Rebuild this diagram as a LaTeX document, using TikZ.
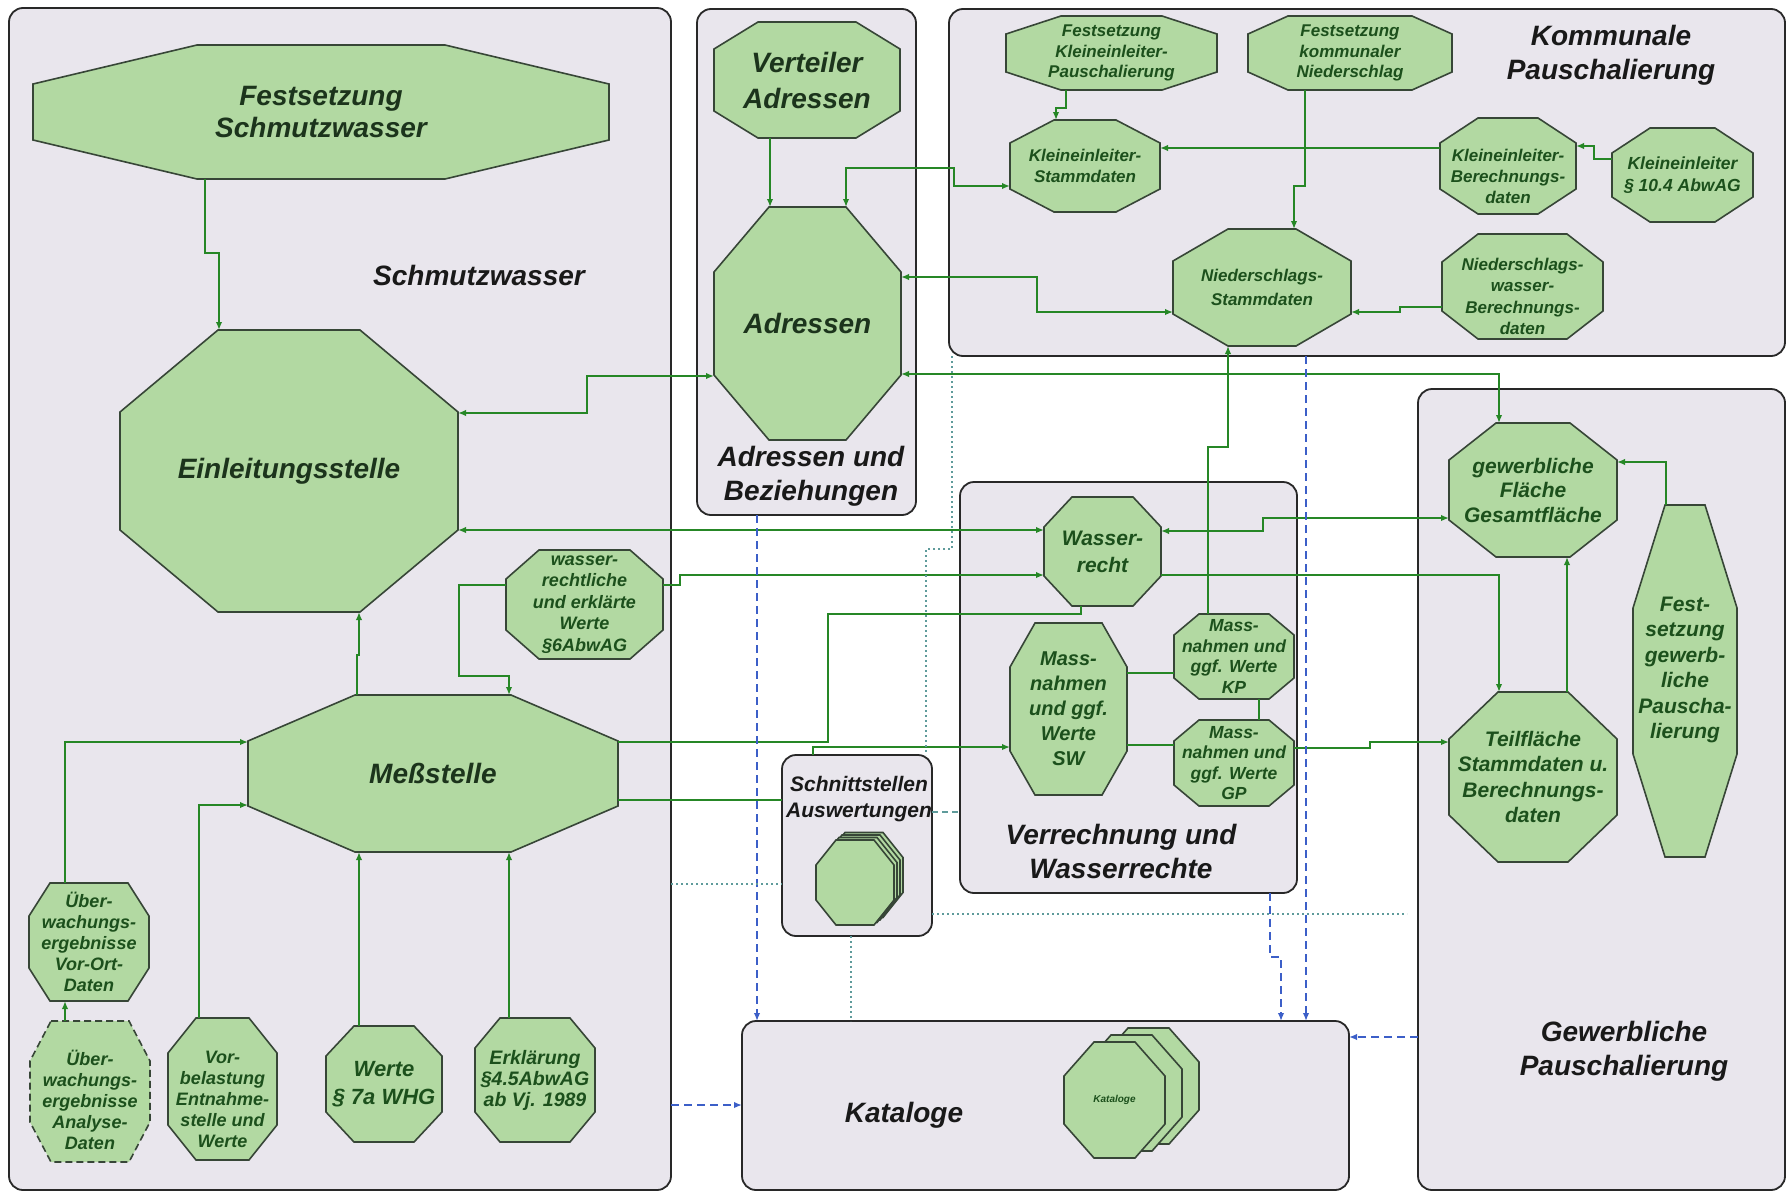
\documentclass[tikz,border=0pt]{standalone}
\usepackage{fontspec}
\setmainfont{Liberation Sans}
\usetikzlibrary{arrows.meta}

\definecolor{panelfill}{RGB}{233,230,237}
\definecolor{panelborder}{RGB}{40,40,40}
\definecolor{octfill}{RGB}{178,217,162}
\definecolor{octborder}{RGB}{55,70,55}
\definecolor{lgreen}{RGB}{38,135,38}
\definecolor{lblue}{RGB}{60,95,200}
\definecolor{lteal}{RGB}{95,155,155}
\definecolor{txtgreen}{RGB}{28,80,28}
\definecolor{txtdark}{RGB}{28,52,28}
\definecolor{labelblack}{RGB}{25,25,25}

\newcommand\nfont[2]{\fontsize{#1}{#2}\selectfont\bfseries\itshape}

\tikzset{
  panel/.style={draw=panelborder, fill=panelfill, line width=1.8pt, rounded corners=14pt, inner sep=0pt, outer sep=0pt},
  plabel/.style={inner sep=0pt, align=center, text=labelblack, font=\nfont{28}{34}},
  octshape/.style={fill=octfill, draw=octborder, line width=1.6pt},
  octextra/.style={},
  octbox/.style={inner sep=0pt, outer sep=0pt},
  octlabel/.style={inner sep=0pt, align=center, text=txtgreen},
  conn/.style={draw=lgreen, line width=1.6pt},
  bdash/.style={draw=lblue, line width=1.8pt, dash pattern=on 8pt off 5pt},
  tdot/.style={draw=lteal, line width=1.8pt, dash pattern=on 2pt off 3pt},
  tdash/.style={draw=lteal, line width=1.6pt, dash pattern=on 6pt off 4pt},
}

% rounded group box: name, x0, y0, x1, y1
\newcommand\panelbox[5]{\node[panel, minimum width=#4-#2, minimum height=#5-#3] (#1) at ({(#2+#4)/2},{(#3+#5)/2}) {};}

% bare octagon outline: x0, y0, x1, y1, cut x, cut y
\newcommand\octpath[6]{\path[octshape] (#1+#5,#2) -- (#3-#5,#2) -- (#3,#2+#6) -- (#3,#4-#6) -- (#3-#5,#4) -- (#1+#5,#4) -- (#1,#4-#6) -- (#1,#2+#6) -- cycle;}

% octagon with named box and text: [text opts] name, x0, y0, x1, y1, cut x, cut y, text
\newcommand\octo[9][]{%
  \path[octshape,octextra] (#3+#7,#4) -- (#5-#7,#4) -- (#5,#4+#8) -- (#5,#6-#8) -- (#5-#7,#6) -- (#3+#7,#6) -- (#3,#6-#8) -- (#3,#4+#8) -- cycle;
  \node[octbox, minimum width=#5-#3, minimum height=#6-#4] (#2) at ({(#3+#5)/2},{(#4+#6)/2}) {};
  \node[octlabel,#1] (#2-t) at (#2.center) {#9};}

\begin{document}
\begin{tikzpicture}[x=1pt,y=-1pt,>={Latex[length=8pt,width=6.5pt]}]
\useasboundingbox (0,0) rectangle (1787,1194);
\fill[white] (0,0) rectangle (1787,1194);

% ---------- group boxes ----------
\panelbox{pSW}{9}{8}{671}{1190}
\panelbox{pAdr}{697}{9}{916}{515}
\panelbox{pKom}{949}{9}{1785}{356}
\panelbox{pVer}{960}{482}{1297}{893}
\panelbox{pGew}{1418}{389}{1785}{1190}
\panelbox{pSch}{782}{755}{932}{936}
\panelbox{pKat}{742}{1021}{1349}{1190}

\node[plabel] (lSW) at (479,275) {Schmutzwasser};
\node[plabel] (lAdr) at (811,476) {Adressen und\\Beziehungen};
\node[plabel] (lKom) at (1611,55) {Kommunale\\Pauschalierung};
\node[plabel] (lVer) at (1121,851) {Verrechnung und\\Wasserrechte};
\node[plabel] (lGew) at (1624,1051) {Gewerbliche\\Pauschalierung};
\node[plabel] (lKat) at (904,1115) {Kataloge};
\node[plabel, font=\nfont{21}{26}] (lSch) at (859,799) {Schnittstellen\\Auswertungen};

% ---------- Schmutzwasser ----------
\octo[font=\nfont{28}{32},text=txtdark]{fsw}{33}{45}{609}{179}{164}{39}{Festsetzung\\Schmutzwasser}
\octo[font=\nfont{28}{32},text=txtdark]{ein}{120}{330}{458}{612}{98}{82}{Einleitungsstelle}
\octo[font=\nfont{28}{32},text=txtdark]{mess}{248}{695}{618}{852}{107}{46}{Meßstelle}
\octo[font=\nfont{18}{21.5}]{wr6}{506}{550}{663}{659}{33}{29}{wasser-\\rechtliche\\und erklärte\\Werte\\§6AbwAG}
\octo[font=\nfont{18}{21}]{vo}{29}{883}{149}{1001}{21}{33}{Über-\\wachungs-\\ergebnisse\\Vor-Ort-\\Daten}
\begin{scope}[octextra/.style={dash pattern=on 7pt off 4pt}]
\octo[font=\nfont{18}{21},yshift=-8pt]{ana}{30}{1021}{150}{1162}{21}{40}{Über-\\wachungs-\\ergebnisse\\Analyse-\\Daten}
\end{scope}
\octo[font=\nfont{18}{21},yshift=-10pt]{vb}{168}{1018}{277}{1160}{28}{35}{Vor-\\belastung\\Entnahme-\\stelle und\\Werte}
\octo[font=\nfont{22}{28}]{w7}{326}{1026}{442}{1142}{28}{30}{Werte\\§ 7a WHG}
\octo[font=\nfont{19.5}{21}]{erk}{475}{1018}{595}{1142}{25}{30}{Erklärung\\§4.5AbwAG\\ab Vj. 1989}

% ---------- Adressen ----------
\octo[font=\nfont{28}{36},text=txtdark]{vert}{714}{22}{900}{138}{44}{27}{Verteiler\\Adressen}
\octo[font=\nfont{28}{32},text=txtdark]{adr}{714}{207}{901}{440}{55}{65}{Adressen}

% ---------- Kommunale Pauschalierung ----------
\octo[font=\nfont{17}{20.5}]{fklp}{1006}{16}{1217}{90}{55}{18}{Festsetzung\\Kleineinleiter-\\Pauschalierung}
\octo[font=\nfont{17}{20.5}]{fkn}{1248}{16}{1452}{90}{40}{18}{Festsetzung\\kommunaler\\Niederschlag}
\octo[font=\nfont{17}{21}]{klst}{1010}{120}{1160}{212}{44}{23}{Kleineinleiter-\\Stammdaten}
\octo[font=\nfont{17}{21},yshift=-10pt]{klber}{1440}{118}{1576}{214}{38}{25}{Kleineinleiter-\\Berechnungs-\\daten}
\octo[font=\nfont{17.5}{22}]{k104}{1612}{128}{1753}{222}{38}{25}{Kleineinleiter\\§ 10.4 AbwAG}
\octo[font=\nfont{17}{24}]{nst}{1173}{229}{1351}{346}{55}{32}{Niederschlags-\\Stammdaten}
\octo[font=\nfont{17}{21.5},yshift=-10pt]{nwber}{1442}{234}{1603}{339}{36}{28}{Niederschlags-\\wasser-\\Berechnungs-\\daten}

% ---------- Verrechnung und Wasserrechte ----------
\octo[font=\nfont{21}{27}]{wr}{1044}{497}{1161}{606}{28}{30}{Wasser-\\recht}
\octo[font=\nfont{20}{25}]{sw}{1010}{623}{1127}{795}{25}{44}{Mass-\\nahmen\\und ggf.\\Werte\\SW}
\octo[font=\nfont{17.5}{20.5}]{kp}{1174}{614}{1294}{699}{25}{21}{Mass-\\nahmen und\\ggf. Werte\\KP}
\octo[font=\nfont{17.5}{20.5}]{gp}{1174}{720}{1294}{806}{25}{21}{Mass-\\nahmen und\\ggf. Werte\\GP}

% ---------- Gewerbliche Pauschalierung ----------
\octo[font=\nfont{21}{24.5}]{gew}{1449}{423}{1617}{557}{47}{37}{gewerbliche\\Fläche\\Gesamtfläche}
\octo[font=\nfont{21}{25.5}]{teil}{1449}{692}{1617}{862}{49}{47}{Teilfläche\\Stammdaten u.\\Berechnungs-\\daten}
\octo[font=\nfont{21}{25.4},yshift=11pt]{fgp}{1633}{505}{1737}{857}{32}{103}{Fest-\\setzung\\gewerb-\\liche\\Pauscha-\\lierung}

% ---------- stacked symbols ----------
\foreach \i in {3,2,1,0} {\octpath{816+3*\i}{840-2.5*\i}{894+3*\i}{925-2.5*\i}{20}{25}}
\octpath{1098}{1028}{1199}{1144}{30}{34}
\octpath{1081}{1035}{1182}{1151}{30}{34}
\octo[font=\nfont{10}{12}]{katoct}{1064}{1042}{1165}{1158}{30}{34}{Kataloge}

% ---------- green data flows ----------
\draw[conn,->] (fsw.south -| 205,0) |- (219,253) -- (ein.north -| 219,0);
\draw[conn,<->] (ein.east |- 0,413) -| (587,376) -- (adr.west |- 0,376);
\draw[conn,<->] (adr.east |- 0,374) -| (gew.north -| 1499,0);
\draw[conn,<->] (ein.east |- 0,530) -- (wr.west |- 0,530);
\draw[conn,->] (wr6.east |- 0,585) -- (680,585) -- (680,575) -- (wr.west |- 0,575);
\draw[conn,<->] (wr.east |- 0,531) -- (1263,531) -- (1263,518) -- (gew.west |- 0,518);
\draw[conn,->] (wr.east |- 0,575) -| (teil.north -| 1499,0);
\draw[conn] (mess.east |- 0,742) -- (828,742) -- (828,614) -- (1081,614) -- (wr.south -| 1081,0);
\draw[conn,->] (pSch.north -| 813,0) -- (813,747) -- (sw.west |- 0,747);
\draw[conn] (mess.east |- 0,800) -- (pSch.west |- 0,800);
\draw[conn] (sw.east |- 0,673) -- (kp.west |- 0,673);
\draw[conn] (sw.east |- 0,745) -- (gp.west |- 0,745);
\draw[conn] (kp.south -| 1259,0) -- (gp.north -| 1259,0);
\draw[conn,->] (gp.east |- 0,748) -- (1370,748) -- (1370,742) -- (teil.west |- 0,742);
\draw[conn,->] (kp.north -| 1208,0) -- (1208,447) -- (1228,447) -- (nst.south -| 1228,0);
\draw[conn,->] (teil.north -| 1567,0) -- (gew.south -| 1567,0);
\draw[conn,->] (fgp.north -| 1666,0) |- (gew.east |- 0,462);
\draw[conn,->] (mess.north -| 357,0) -- (357,655) -- (359,655) -- (ein.south -| 359,0);
\draw[conn,->] (wr6.west |- 0,585) -| (459,676) -| (mess.north -| 509,0);
\draw[conn,->] (vo.north -| 65,0) |- (mess.west |- 0,742);
\draw[conn,->] (vb.north -| 199,0) |- (mess.west |- 0,805);
\draw[conn,->] (w7.north -| 359,0) -- (mess.south -| 359,0);
\draw[conn,->] (erk.north -| 509,0) -- (mess.south -| 509,0);
\draw[conn,->] (ana.north -| 65,0) -- (vo.south -| 65,0);
\draw[conn,->] (vert.south -| 770,0) -- (adr.north -| 770,0);
\draw[conn,<->] (adr.north -| 846,0) |- (954,168) |- (klst.west |- 0,186);
\draw[conn,<->] (adr.east |- 0,277) -| (1037,312) -- (nst.west |- 0,312);
\draw[conn,->] (fklp.south -| 1066,0) |- (1056,108) -- (klst.north -| 1056,0);
\draw[conn,->] (fkn.south -| 1305,0) -- (1305,186) -- (1294,186) -- (nst.north -| 1294,0);
\draw[conn,->] (klber.west |- 0,148) -- (klst.east |- 0,148);
\draw[conn,->] (k104.west |- 0,159) -- (1594,159) -- (1594,146) -- (klber.east |- 0,146);
\draw[conn,->] (nwber.west |- 0,307) -- (1400,307) -- (1400,312) -- (nst.east |- 0,312);

% ---------- catalogue references ----------
\draw[bdash,->] (pAdr.south -| 757,0) -- (pKat.north -| 757,0);
\draw[bdash,->] (pKom.south -| 1306,0) -- (pKat.north -| 1306,0);
\draw[bdash,->] (pVer.south -| 1270,0) -- (1270,957) -- (1281,957) -- (pKat.north -| 1281,0);
\draw[bdash,->] (pGew.west |- 0,1037) -- (pKat.east |- 0,1037);
\draw[bdash,->] (pSW.east |- 0,1105) -- (pKat.west |- 0,1105);

% ---------- interface links ----------
\draw[tdot] (pKom.south -| 952,0) -- (952,549) -- (926,549) -- (pSch.north -| 926,0);
\draw[tdot] (pSW.east |- 0,884) -- (pSch.west |- 0,884);
\draw[tdot] (pSch.east |- 0,914) -- (1407,914);
\draw[tdot] (pSch.south -| 851,0) -- (pKat.north -| 851,0);
\draw[tdash] (pSch.east |- 0,812) -- (pVer.west |- 0,812);
\end{tikzpicture}
\end{document}
